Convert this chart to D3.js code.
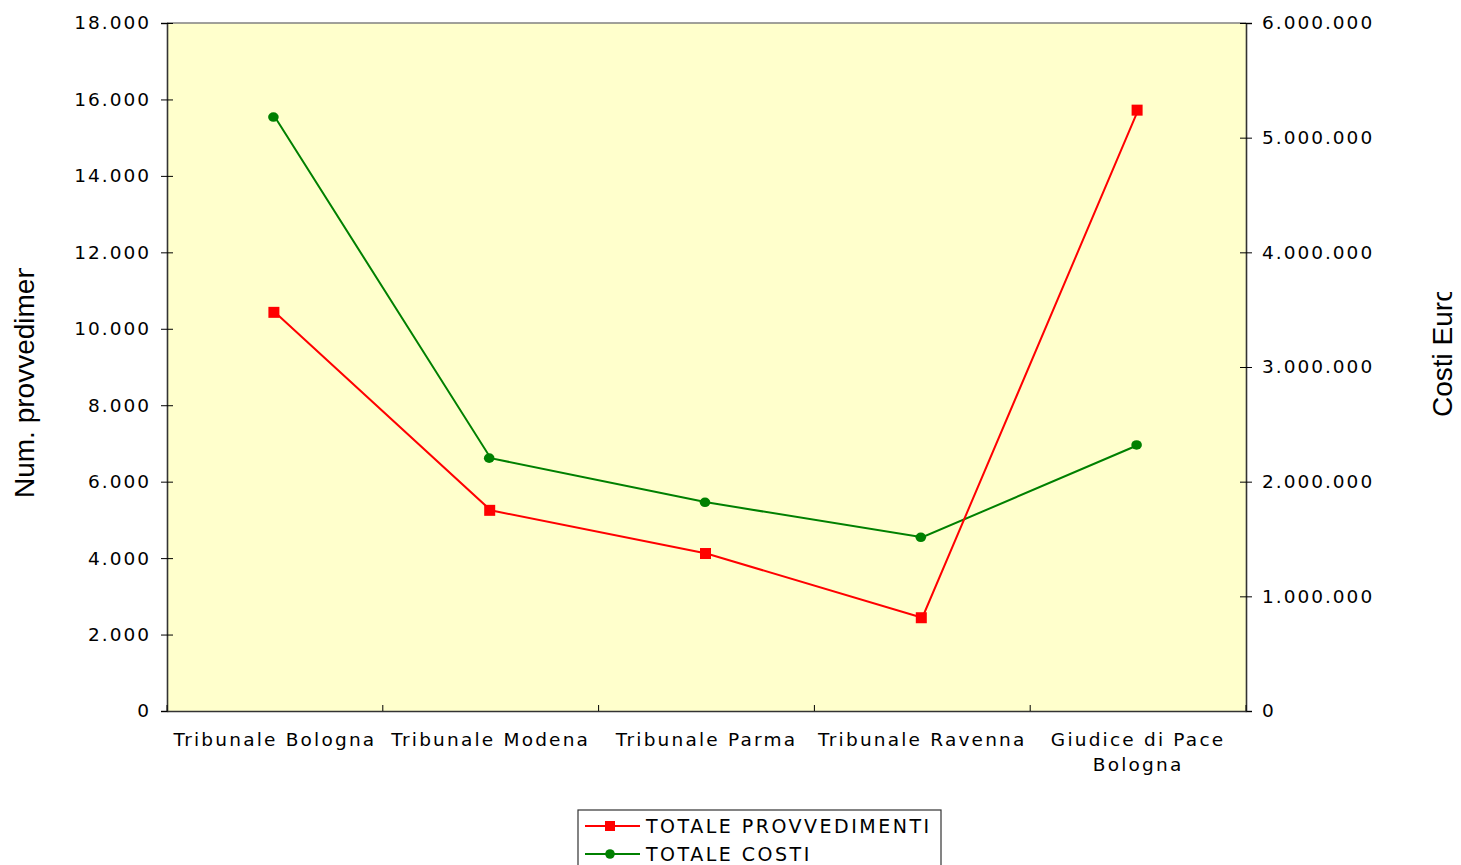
<!DOCTYPE html>
<html>
<head>
<meta charset="utf-8">
<script src="https://cdn.jsdelivr.net/npm/d3@7"></script>
<style>
  html, body { margin: 0; padding: 0; background: #fff; }
  svg { display: block; }
  .tick text { font-family: "DejaVu Sans", Verdana, sans-serif; }
</style>
</head>
<body>
<script>
// Categories and series values
const categories = ["Tribunale Bologna", "Tribunale Modena", "Tribunale Parma", "Tribunale Ravenna", "Giudice di Pace Bologna"];
const provvedimenti = [10430, 5250, 4120, 2440, 15720];
const costi = [5180000, 2205000, 1820000, 1515000, 2320000];
const leftTicks = [0, 2000, 4000, 6000, 8000, 10000, 12000, 14000, 16000, 18000];
const rightTicks = [0, 1000000, 2000000, 3000000, 4000000, 5000000, 6000000];
const seriesNames = ["TOTALE PROVVEDIMENTI", "TOTALE COSTI"];

const W = 1461, H = 865;
const plot = { left: 167, right: 1246, top: 23, bottom: 711 };

const it = d3.formatLocale({ decimal: ",", thousands: ".", grouping: [3], currency: ["€", ""] });
const fmt = it.format(",.0f");

const svg = d3.select("body").append("svg").attr("width", W).attr("height", H);

const x = d3.scaleBand().domain(categories).range([plot.left, plot.right]).padding(0);
const yL = d3.scaleLinear().domain([0, 18000]).range([plot.bottom, plot.top]);
const yR = d3.scaleLinear().domain([0, 6000000]).range([plot.bottom, plot.top]);
const cx = c => x(c) + x.bandwidth() / 2;

// Plot background
svg.append("rect")
  .attr("x", plot.left).attr("y", plot.top)
  .attr("width", plot.right - plot.left).attr("height", plot.bottom - plot.top)
  .attr("fill", "#FFFFCC");
svg.append("line")
  .attr("x1", plot.left).attr("x2", plot.right)
  .attr("y1", plot.top).attr("y2", plot.top)
  .attr("stroke", "#808080").attr("stroke-width", 1.5);

const tickFont = 18.5, tickSpacing = 2, textColor = "#000";

// Left axis
const gL = svg.append("g").attr("transform", `translate(${plot.left},0)`)
  .call(d3.axisLeft(yL).tickValues(leftTicks).tickFormat(fmt).tickSize(6).tickPadding(12));
gL.selectAll(".tick line").clone().attr("x2", 6);
// Right axis
const gR = svg.append("g").attr("transform", `translate(${plot.right},0)`)
  .call(d3.axisRight(yR).tickValues(rightTicks).tickFormat(fmt).tickSize(6).tickPadding(10));
gR.selectAll(".tick line").clone().attr("x2", -6);
// Bottom axis: ticks at category boundaries
const gB = svg.append("g").attr("transform", `translate(0,${plot.bottom})`)
  .call(d3.axisBottom(x).tickSize(0).tickFormat(""));
gB.selectAll(".tick").remove();
const bounds = categories.map(c => x(c)).concat([plot.right]);
gB.selectAll(".bnd").data(bounds).join("line")
  .attr("x1", d => d).attr("x2", d => d).attr("y1", 0).attr("y2", -6)
  .attr("stroke", "#000");

[gL, gR, gB].forEach(g => {
  g.select(".domain").attr("stroke", "#333").attr("stroke-width", 1.6);
  g.selectAll(".tick line").attr("stroke", "#000");
  g.selectAll(".tick text")
    .attr("font-size", tickFont).attr("fill", textColor)
    .style("letter-spacing", tickSpacing + "px");
});
gL.selectAll(".tick text").attr("dx", tickSpacing);

// Category labels (wrapped when long)
const catG = svg.append("g");
categories.forEach(c => {
  const lines = c === "Giudice di Pace Bologna" ? ["Giudice di Pace", "Bologna"] : [c];
  const t = catG.append("text")
    .attr("x", cx(c)).attr("y", 746)
    .attr("text-anchor", "middle")
    .attr("font-family", "'DejaVu Sans', Verdana, sans-serif")
    .attr("font-size", tickFont).attr("fill", textColor)
    .style("letter-spacing", "2.2px");
  lines.forEach((l, i) => t.append("tspan").attr("x", cx(c)).attr("dy", i === 0 ? 0 : 25).text(l));
});

// Axis titles (clipped boxes)
const defs = svg.append("defs");
defs.append("clipPath").attr("id", "clipL").append("rect").attr("x", 0).attr("y", 268).attr("width", 60).attr("height", 300);
defs.append("clipPath").attr("id", "clipR").append("rect").attr("x", 1400).attr("y", 292).attr("width", 61).attr("height", 200);

svg.append("g").attr("clip-path", "url(#clipL)")
  .append("text")
  .attr("transform", "translate(34,498) rotate(-90)")
  .attr("font-family", "'Liberation Sans', Arial, sans-serif")
  .attr("font-size", 28).attr("fill", textColor)
  .text("Num. provvedimenti");

svg.append("g").attr("clip-path", "url(#clipR)")
  .append("text")
  .attr("transform", "translate(1452,417) rotate(-90)")
  .attr("font-family", "'Liberation Sans', Arial, sans-serif")
  .attr("font-size", 28).attr("fill", textColor)
  .text("Costi Euro");

// Series lines
const lineL = d3.line().x((d, i) => cx(categories[i])).y(d => yL(d));
const lineR = d3.line().x((d, i) => cx(categories[i])).y(d => yR(d));

svg.append("path").datum(costi).attr("d", lineR)
  .attr("fill", "none").attr("stroke", "#008000").attr("stroke-width", 2);
svg.append("path").datum(provvedimenti).attr("d", lineL)
  .attr("fill", "none").attr("stroke", "#FF0000").attr("stroke-width", 2);

svg.selectAll(".ptC").data(costi).join("ellipse")
  .attr("cx", (d, i) => cx(categories[i]) - 1.5).attr("cy", d => yR(d))
  .attr("rx", 5.3).attr("ry", 4.8).attr("fill", "#008000");
svg.selectAll(".ptP").data(provvedimenti).join("rect")
  .attr("x", (d, i) => cx(categories[i]) - 6.5).attr("y", d => yL(d) - 5.5)
  .attr("width", 11).attr("height", 11).attr("fill", "#FF0000");

// Legend
const leg = svg.append("g");
leg.append("rect").attr("x", 578).attr("y", 810).attr("width", 363).attr("height", 70)
  .attr("fill", "#fff").attr("stroke", "#333").attr("stroke-width", 1.2);
const legRows = [
  { name: seriesNames[0], color: "#FF0000", shape: "square", y: 826 },
  { name: seriesNames[1], color: "#008000", shape: "circle", y: 854 }
];
legRows.forEach(r => {
  leg.append("line").attr("x1", 585).attr("x2", 640).attr("y1", r.y).attr("y2", r.y)
    .attr("stroke", r.color).attr("stroke-width", 2);
  if (r.shape === "square") {
    leg.append("rect").attr("x", 605).attr("y", r.y - 5).attr("width", 10).attr("height", 10).attr("fill", r.color);
  } else {
    leg.append("circle").attr("cx", 610).attr("cy", r.y).attr("r", 4.8).attr("fill", r.color);
  }
  leg.append("text").attr("x", 646).attr("y", r.y + 7)
    .attr("font-family", "'DejaVu Sans', Verdana, sans-serif")
    .attr("font-size", 19).attr("fill", textColor)
    .style("letter-spacing", "2.5px")
    .text(r.name);
});
</script>
</body>
</html>
